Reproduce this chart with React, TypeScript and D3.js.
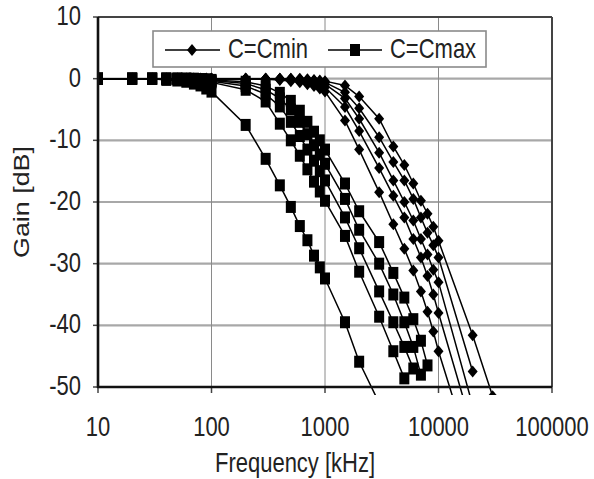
import React from 'react'
import * as d3 from 'd3'

// measurement frequencies in kHz
const freqs = [10, 20, 30, 40, 50, 60, 70, 80, 90, 100, 200, 300, 400, 500, 600, 700, 800, 900, 1000,
  1500, 2000, 3000, 4000, 5000, 6000, 7000, 8000, 9000, 10000, 20000, 30000]

// gain in dB, C = Cmin (diamonds)
const cminA = [0, 0, 0, 0, 0, 0, 0, 0, 0, 0, 0, -0.1, -0.2, -0.4, -0.6, -0.9, -1.2, -1.6, -2.1,
  -6.8, -11.5, -18.4, -23.6, -27.6, -31.1, -34.5, -37.8, -41, -44.2, -62]
const cminB = [0, 0, 0, 0, 0, 0, 0, 0, 0, 0, 0, 0, -0.1, -0.2, -0.3, -0.5, -0.7, -1.0, -1.4,
  -4.6, -8.5, -14.5, -19, -22.5, -26, -29, -32, -35, -38, -57]
const cminC = [0, 0, 0, 0, 0, 0, 0, 0, 0, 0, 0, 0, 0, -0.1, -0.2, -0.3, -0.5, -0.7, -0.9,
  -3.2, -6.5, -12, -16.5, -20, -23, -26, -28.5, -31, -33, -53]
const cminD = [0, 0, 0, 0, 0, 0, 0, 0, 0, 0, 0, 0, 0, 0, -0.1, -0.2, -0.3, -0.4, -0.6,
  -2.2, -4.8, -9.5, -13.5, -16.5, -19.5, -22.5, -25, -27, -29, -47.5]
const cminE = [0, 0, 0, 0, 0, 0, 0, 0, 0, 0, 0, 0, 0, 0, 0, -0.1, -0.2, -0.3, -0.4,
  -1.1, -2.9, -6.5, -11, -14, -17, -19.8, -21.9, -24, -26.3, -41.6, -51.5]

// gain in dB, C = Cmax (squares)
const cmax1 = [0, 0, 0, -0.2, -0.3, -0.5, -0.8, -1.1, -1.6, -2.1, -7.5, -13, -17.3, -20.8, -23.9, -26.2, -28.7, -30.6, -32.4,
  -39.5, -45.9, -52.6]
const cmax2 = [0, 0, 0, 0, -0.1, -0.1, -0.2, -0.3, -0.4, -0.6, -1.8, -3.7, -7.3, -10, -12.5, -14.7, -16.7, -18.3, -19.8,
  -25.5, -31.3, -38.6, -44.2, -48.6]
const cmax3 = [0, 0, 0, 0, 0, -0.1, -0.1, -0.2, -0.3, -0.4, -1.2, -2.5, -4.5, -7, -9.3, -11.5, -13.3, -15, -16.5,
  -22.5, -27.5, -34.5, -39.5, -43.5, -47]
const cmax4 = [0, 0, 0, 0, 0, 0, -0.1, -0.1, -0.2, -0.3, -0.8, -1.8, -3.2, -5, -7, -9, -10.8, -12.3, -13.8,
  -19.5, -24.5, -30, -35, -39.5, -43.5, -48]
const cmax5 = [0, 0, 0, 0, 0, 0, 0, -0.1, -0.1, -0.2, -0.5, -1.2, -2.3, -3.6, -5.2, -7, -8.6, -10, -11.5,
  -17, -21.5, -26.5, -31.5, -35.5, -39, -42.5, -46.5]

const cminSeries = [cminA, cminB, cminC, cminD, cminE]
const cmaxSeries = [cmax1, cmax2, cmax3, cmax4, cmax5]

const xTicks = [10, 100, 1000, 10000, 100000]
const yTicks = [10, 0, -10, -20, -30, -40, -50]
const legendLabels = ['C=Cmin', 'C=Cmax']

const W = 594, H = 479
const left = 98, right = 552, top = 17, bottom = 387
const FONT = 'Liberation Sans, Arial, sans-serif'
const SY = 1.22 // the picture is stretched vertically

const x = d3.scaleLog().domain([10, 100000]).range([left, right])
const y = d3.scaleLinear().domain([-50, 10]).range([bottom, top])

const line = d3.line<number>()
  .x((d, i) => x(freqs[i]))
  .y(d => y(d))

const Diamond = ({cx, cy}: {cx: number, cy: number}) =>
  <path d={`M${cx},${cy - 6}L${cx + 5},${cy}L${cx},${cy + 6}L${cx - 5},${cy}Z`} fill="#000" />

const Square = ({cx, cy}: {cx: number, cy: number}) =>
  <rect x={cx - 5} y={cy - 6} width={10} height={12} fill="#000" />

const Series = ({vals, kind}: {vals: number[], kind: string}) => (
  <g>
    <path d={line(vals) || ''} fill="none" stroke="#000" strokeWidth={1.5} />
    {vals.map((v, i) => kind === 'd'
      ? <Diamond key={i} cx={x(freqs[i])} cy={y(v)} />
      : <Square key={i} cx={x(freqs[i])} cy={y(v)} />)}
  </g>
)

const Txt = ({tx, ty, anchor, size, children}: any) => (
  <text transform={`translate(${tx},${ty}) scale(1,${SY})`} textAnchor={anchor}
    fontFamily={FONT} fontSize={size} fill="#222">{children}</text>
)

export default function App() {
  return (
    <svg width={W} height={H} style={{position: 'absolute', left: 0, top: 0, background: '#fff'}}>
      <defs>
        <clipPath id="plotclip">
          <rect x={left} y={top} width={right - left} height={bottom - top + 8} />
        </clipPath>
      </defs>
      <rect width={W} height={H} fill="#fff" />

      {/* grid */}
      {yTicks.filter(t => t > -50 && t < 10).map(t =>
        <line key={t} x1={left} x2={right} y1={y(t)} y2={y(t)} stroke="#a8a8a8" strokeWidth={2.2} />)}
      {xTicks.filter(t => t > 10 && t < 100000).map(t =>
        <line key={t} x1={x(t)} x2={x(t)} y1={top} y2={bottom} stroke="#8a8a8a" strokeWidth={1} />)}

      {/* frame */}
      <line x1={left} x2={right} y1={top} y2={top} stroke="#444" strokeWidth={2} />
      <line x1={right} x2={right} y1={top} y2={bottom} stroke="#444" strokeWidth={2} />

      {/* ticks */}
      {yTicks.map(t => <line key={t} x1={left - 5} x2={left} y1={y(t)} y2={y(t)} stroke="#444" strokeWidth={1.5} />)}
      {xTicks.map(t => <line key={t} x1={x(t)} x2={x(t)} y1={bottom} y2={bottom + 6} stroke="#444" strokeWidth={1.5} />)}

      <g clipPath="url(#plotclip)">
        {cminSeries.map((s, i) => <Series key={'d' + i} vals={s} kind="d" />)}
        {cmaxSeries.map((s, i) => <Series key={'s' + i} vals={s} kind="s" />)}
      </g>

      <line x1={left} x2={left} y1={top} y2={bottom + 1} stroke="#111" strokeWidth={2.6} />
      <line x1={left - 1} x2={right} y1={bottom} y2={bottom} stroke="#111" strokeWidth={2.6} />

      {/* tick labels */}
      {yTicks.map(t => <Txt key={t} tx={81} ty={y(t) + 8} anchor="end" size={22}>{t}</Txt>)}
      {xTicks.map(t => <Txt key={t} tx={x(t)} ty={436} anchor="middle" size={22}>{t}</Txt>)}

      {/* axis titles */}
      <Txt tx={295} ty={472} anchor="middle" size={22}>Frequency [kHz]</Txt>
      <text transform={`translate(29,${(top + bottom) / 2}) rotate(-90) scale(${SY},1)`} textAnchor="middle"
        fontFamily={FONT} fontSize={22} fill="#222">Gain [dB]</text>

      {/* legend */}
      <rect x={153} y={31} width={333} height={36} fill="#fff" stroke="#8a8a8a" strokeWidth={1.6} />
      <line x1={165} x2={220} y1={50} y2={50} stroke="#000" strokeWidth={1.5} />
      <Diamond cx={192} cy={50} />
      <Txt tx={228} ty={58} anchor="start" size={22}>{legendLabels[0]}</Txt>
      <line x1={328} x2={382} y1={50} y2={50} stroke="#000" strokeWidth={1.5} />
      <Square cx={355} cy={50} />
      <Txt tx={390} ty={58} anchor="start" size={22}>{legendLabels[1]}</Txt>
    </svg>
  )
}
